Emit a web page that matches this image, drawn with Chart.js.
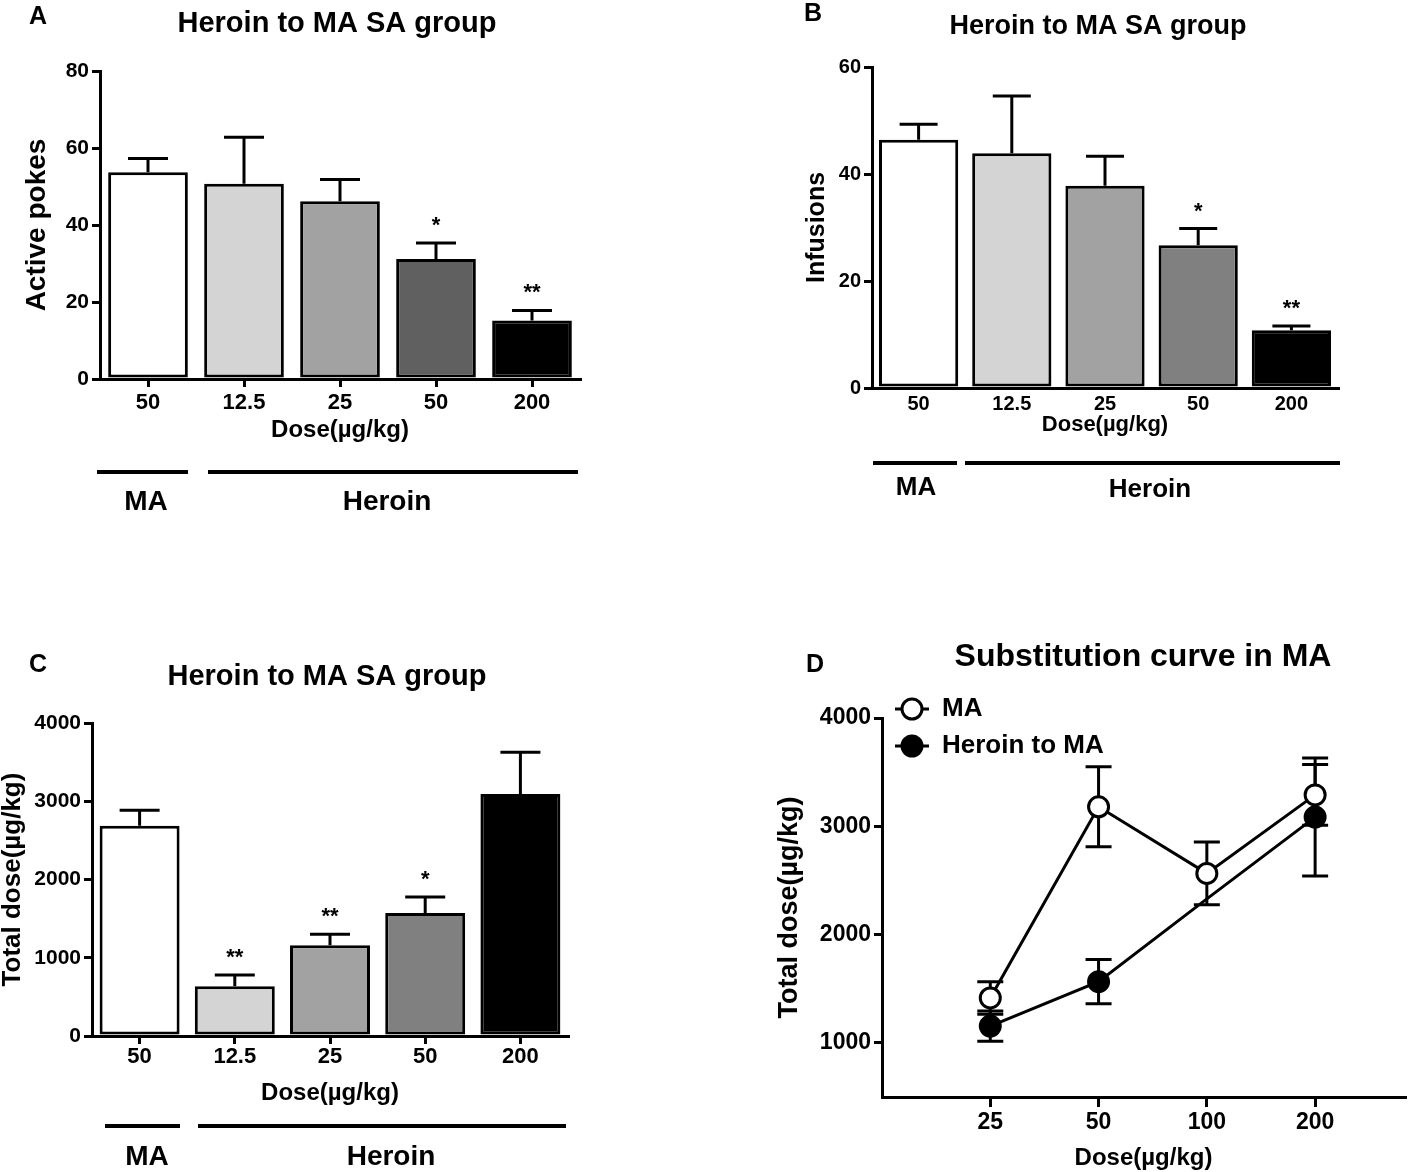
<!DOCTYPE html>
<html>
<head>
<meta charset="utf-8">
<script src="https://cdn.jsdelivr.net/npm/chart.js@4.4.1/dist/chart.umd.min.js"></script>
<style>
  body { margin: 0; background: #fff; width: 1418px; height: 1172px; position: relative; overflow: hidden; }
  canvas { position: absolute; }
</style>
</head>
<body>
<canvas id="chartA" width="600" height="530" style="left:0px;top:0px"></canvas>
<canvas id="chartB" width="600" height="520" style="left:780px;top:0px"></canvas>
<canvas id="chartC" width="600" height="532" style="left:0px;top:640px"></canvas>
<canvas id="chartD" width="648" height="542" style="left:770px;top:630px"></canvas>
<script>
// ---- data ----
const doses = ['50', '12.5', '25', '50', '200'];

const pokesMean = [53.7, 50.7, 46.2, 31.2, 15.2];
const pokesSem  = [3.6, 12.1, 5.6, 4.1, 2.6];
const pokesStars = ['', '', '', '*', '**'];

const infusionsMean = [46.4, 43.9, 37.8, 26.7, 10.8];
const infusionsSem  = [2.9, 10.7, 5.5, 3.1, 0.8];
const infusionsStars = ['', '', '', '*', '**'];

const totalMean = [2688, 636, 1160, 1572, 3094];
const totalSem  = [198, 142, 140, 205, 532];
const totalStars = ['', '**', '**', '*', ''];

const curveDoses = ['25', '50', '100', '200'];
const maMean = [1415, 3180, 2565, 3290];
const maSem  = [150, 370, 290, 280];
const heroinMaMean = [1155, 1565, 2330, 3085];
const heroinMaSem  = [140, 205, 0, 545];

const greysA = ['#ffffff', '#d4d4d4', '#a2a2a2', '#606060', '#000000'];
const greysBC = ['#ffffff', '#d4d4d4', '#a2a2a2', '#808080', '#000000'];

const FONT = '"Liberation Sans", Arial, Helvetica, sans-serif';
Chart.defaults.font.family = FONT;
Chart.defaults.color = '#000';

const plain = v => String(v);

// error bars (mean + SEM, upward only) and significance stars
const barErrors = {
  id: 'barErrors',
  afterDatasetsDraw(chart, args, opts) {
    const ctx = chart.ctx, y = chart.scales.y;
    const meta = chart.getDatasetMeta(0);
    ctx.save();
    ctx.strokeStyle = '#000';
    ctx.lineWidth = 3;
    meta.data.forEach((bar, i) => {
      const top = y.getPixelForValue(opts.mean[i] + opts.sem[i]);
      ctx.beginPath();
      ctx.moveTo(bar.x, bar.y);
      ctx.lineTo(bar.x, top);
      ctx.moveTo(bar.x - opts.cap / 2, top);
      ctx.lineTo(bar.x + opts.cap / 2, top);
      ctx.stroke();
      if (opts.stars[i]) {
        ctx.fillStyle = '#000';
        ctx.font = 'bold 22px ' + FONT;
        ctx.textAlign = 'center';
        ctx.textBaseline = 'alphabetic';
        ctx.fillText(opts.stars[i], bar.x, top - 11);
      }
    });
    ctx.restore();
  }
};

// panel letter, title, group bars under the x axis
const decor = {
  id: 'decor',
  afterDraw(chart, args, o) {
    const ctx = chart.ctx;
    ctx.save();
    ctx.fillStyle = '#000';
    ctx.strokeStyle = '#000';
    ctx.textBaseline = 'middle';
    ctx.textAlign = 'center';
    ctx.font = 'bold 25px ' + FONT;
    ctx.fillText(o.letter[0], o.letter[1], o.letter[2]);
    ctx.font = 'bold ' + o.title[3] + 'px ' + FONT;
    ctx.fillText(o.title[0], o.title[1], o.title[2]);
    if (o.groups) {
      ctx.lineWidth = 4;
      o.groups.forEach(g => {
        ctx.beginPath();
        ctx.moveTo(g.x0, g.line);
        ctx.lineTo(g.x1, g.line);
        ctx.stroke();
        ctx.font = 'bold ' + g.size + 'px ' + FONT;
        ctx.fillText(g.text, g.cx, g.ty);
      });
    }
    ctx.restore();
  }
};

function axisLine() {
  return { display: true, width: 3, color: '#000' };
}

function barPanel(id, means, sems, stars, colors, p) {
  return new Chart(document.getElementById(id), {
    type: 'bar',
    data: {
      labels: doses,
      datasets: [{
        data: means,
        backgroundColor: colors,
        borderColor: '#000',
        borderWidth: 3,
        borderSkipped: false,
        barPercentage: p.barPct,
        categoryPercentage: 1
      }]
    },
    plugins: [barErrors, decor],
    options: {
      responsive: false,
      animation: false,
      devicePixelRatio: 1,
      layout: { padding: { top: p.top, right: p.right, left: 0, bottom: 0 } },
      plugins: {
        legend: { display: false },
        tooltip: { enabled: false },
        barErrors: { mean: means, sem: sems, stars: stars, cap: p.cap },
        decor: { letter: p.letter, title: p.title, groups: p.groups }
      },
      scales: {
        x: {
          border: axisLine(),
          grid: { offset: false, drawOnChartArea: false, drawTicks: p.xTicks, tickLength: 8, lineWidth: 3, color: '#000' },
          ticks: { font: { size: p.xFont, weight: 'bold' }, padding: p.xPad, maxRotation: 0, color: '#000' },
          title: { display: true, text: 'Dose(µg/kg)', font: { size: p.xTitle, weight: 'bold', lineHeight: 1 }, padding: { top: 0, bottom: p.xTitlePad } },
          afterFit(s) { s.height = p.xHeight; }
        },
        y: {
          min: 0,
          max: p.max,
          border: axisLine(),
          grid: { drawOnChartArea: false, tickLength: 8, lineWidth: 3, color: '#000' },
          ticks: { stepSize: p.step, callback: plain, font: { size: p.yFont, weight: 'bold' }, padding: 3, color: '#000' },
          title: { display: true, text: p.yText, font: { size: p.yTitle, weight: 'bold', lineHeight: 1 }, padding: { top: p.yTitlePad, bottom: 0 } },
          afterFit(s) { s.width = p.yWidth; }
        }
      }
    }
  });
}

// A
barPanel('chartA', pokesMean, pokesSem, pokesStars, greysA, {
  barPct: 0.83, top: 71, right: 20, xHeight: 151, yWidth: 100, max: 80, step: 20,
  xTicks: true, xFont: 22, xPad: 3, yFont: 21, xTitle: 24, xTitlePad: 88,
  yText: 'Active pokes', yTitle: 28, yTitlePad: 23, cap: 40,
  letter: ['A', 38, 17], title: ['Heroin to MA SA group', 337, 24, 29],
  groups: [
    { x0: 97, x1: 188, line: 472, text: 'MA', cx: 146, ty: 502, size: 28 },
    { x0: 208, x1: 578, line: 472, text: 'Heroin', cx: 387, ty: 502, size: 28 }
  ]
});

// B
barPanel('chartB', infusionsMean, infusionsSem, infusionsStars, greysBC, {
  barPct: 0.85, top: 67, right: 42, xHeight: 132, yWidth: 92, max: 60, step: 20,
  xTicks: false, xFont: 20, xPad: 4, yFont: 20, xTitle: 22, xTitlePad: 84,
  yText: 'Infusions', yTitle: 25, yTitlePad: 25, cap: 38,
  letter: ['B', 33, 14], title: ['Heroin to MA SA group', 318, 27, 27],
  groups: [
    { x0: 93, x1: 177, line: 463, text: 'MA', cx: 136, ty: 488, size: 26 },
    { x0: 185, x1: 560, line: 463, text: 'Heroin', cx: 370, ty: 490, size: 26 }
  ]
});

// C
barPanel('chartC', totalMean, totalSem, totalStars, greysBC, {
  barPct: 0.84, top: 83, right: 32, xHeight: 136, yWidth: 92, max: 4000, step: 1000,
  xTicks: true, xFont: 22, xPad: 0, yFont: 21, xTitle: 24, xTitlePad: 67,
  yText: 'Total dose(µg/kg)', yTitle: 26, yTitlePad: 0, cap: 40,
  letter: ['C', 38, 25], title: ['Heroin to MA SA group', 327, 37, 29],
  groups: [
    { x0: 105, x1: 180, line: 486, text: 'MA', cx: 147, ty: 517, size: 28 },
    { x0: 198, x1: 566, line: 486, text: 'Heroin', cx: 391, ty: 517, size: 28 }
  ]
});

// D: substitution curve
const curveErrors = {
  id: 'curveErrors',
  beforeDatasetsDraw(chart, args, opts) {
    const ctx = chart.ctx, y = chart.scales.y;
    ctx.save();
    ctx.strokeStyle = '#000';
    ctx.lineWidth = 3;
    [[maMean, maSem], [heroinMaMean, heroinMaSem]].forEach(([m, s], d) => {
      chart.getDatasetMeta(d).data.forEach((pt, i) => {
        if (!s[i]) return;
        const top = y.getPixelForValue(m[i] + s[i]);
        const bot = y.getPixelForValue(m[i] - s[i]);
        ctx.beginPath();
        ctx.moveTo(pt.x, top); ctx.lineTo(pt.x, bot);
        ctx.moveTo(pt.x - opts.cap / 2, top); ctx.lineTo(pt.x + opts.cap / 2, top);
        ctx.moveTo(pt.x - opts.cap / 2, bot); ctx.lineTo(pt.x + opts.cap / 2, bot);
        ctx.stroke();
      });
    });
    ctx.restore();
  },
  afterDraw(chart) {
    // legend in the top-left corner
    const ctx = chart.ctx;
    ctx.save();
    ctx.strokeStyle = '#000';
    ctx.lineWidth = 3;
    [['MA', '#fff', 79], ['Heroin to MA', '#000', 116]].forEach(([txt, fill, cy]) => {
      ctx.beginPath();
      ctx.moveTo(125, cy); ctx.lineTo(159, cy);
      ctx.stroke();
      ctx.beginPath();
      ctx.arc(142, cy, 10, 0, Math.PI * 2);
      ctx.fillStyle = fill;
      ctx.fill();
      ctx.stroke();
      ctx.fillStyle = '#000';
      ctx.font = 'bold 26px ' + FONT;
      ctx.textAlign = 'left';
      ctx.textBaseline = 'middle';
      ctx.fillText(txt, 172, cy);
    });
    ctx.restore();
  }
};

new Chart(document.getElementById('chartD'), {
  type: 'line',
  data: {
    datasets: [
      {
        label: 'MA',
        data: maMean.map((v, i) => ({ x: i + 1, y: v })),
        borderColor: '#000', borderWidth: 3,
        pointRadius: 10, pointBorderWidth: 3,
        pointBackgroundColor: '#fff', pointBorderColor: '#000'
      },
      {
        label: 'Heroin to MA',
        data: heroinMaMean.map((v, i) => ({ x: i + 1, y: v })),
        borderColor: '#000', borderWidth: 3,
        pointRadius: [10, 10, 0, 10], pointBorderWidth: 3,
        pointBackgroundColor: '#000', pointBorderColor: '#000'
      }
    ]
  },
  plugins: [curveErrors, decor],
  options: {
    responsive: false,
    animation: false,
    devicePixelRatio: 1,
    layout: { padding: { top: 88, right: 3, left: 0, bottom: 0 } },
    plugins: {
      legend: { display: false },
      tooltip: { enabled: false },
      curveErrors: { cap: 26 },
      decor: { letter: ['D', 45, 35], title: ['Substitution curve in MA', 373, 27, 32] }
    },
    scales: {
      x: {
        type: 'linear', min: 0, max: 4.83,
        afterBuildTicks(s) { s.ticks = curveDoses.map((d, i) => ({ value: i + 1 })); },
        border: axisLine(),
        grid: { drawOnChartArea: false, tickLength: 10, lineWidth: 3, color: '#000' },
        ticks: { callback: (v, i) => curveDoses[i], font: { size: 23, weight: 'bold' }, padding: 2, maxRotation: 0, color: '#000' },
        title: { display: true, text: 'Dose(µg/kg)', font: { size: 24, weight: 'bold', lineHeight: 1 }, padding: { top: 0, bottom: 2 } },
        afterFit(s) { s.height = 75; }
      },
      y: {
        min: 500, max: 4000,
        afterBuildTicks(s) { s.ticks = [1000, 2000, 3000, 4000].map(v => ({ value: v })); },
        border: axisLine(),
        grid: { drawOnChartArea: false, tickLength: 8, lineWidth: 3, color: '#000' },
        ticks: { callback: plain, font: { size: 23, weight: 'bold' }, padding: 3, color: '#000' },
        title: { display: true, text: 'Total dose(µg/kg)', font: { size: 27, weight: 'bold', lineHeight: 1 }, padding: { top: 6, bottom: 0 } },
        afterFit(s) { s.width = 112; }
      }
    }
  }
});
</script>
</body>
</html>
